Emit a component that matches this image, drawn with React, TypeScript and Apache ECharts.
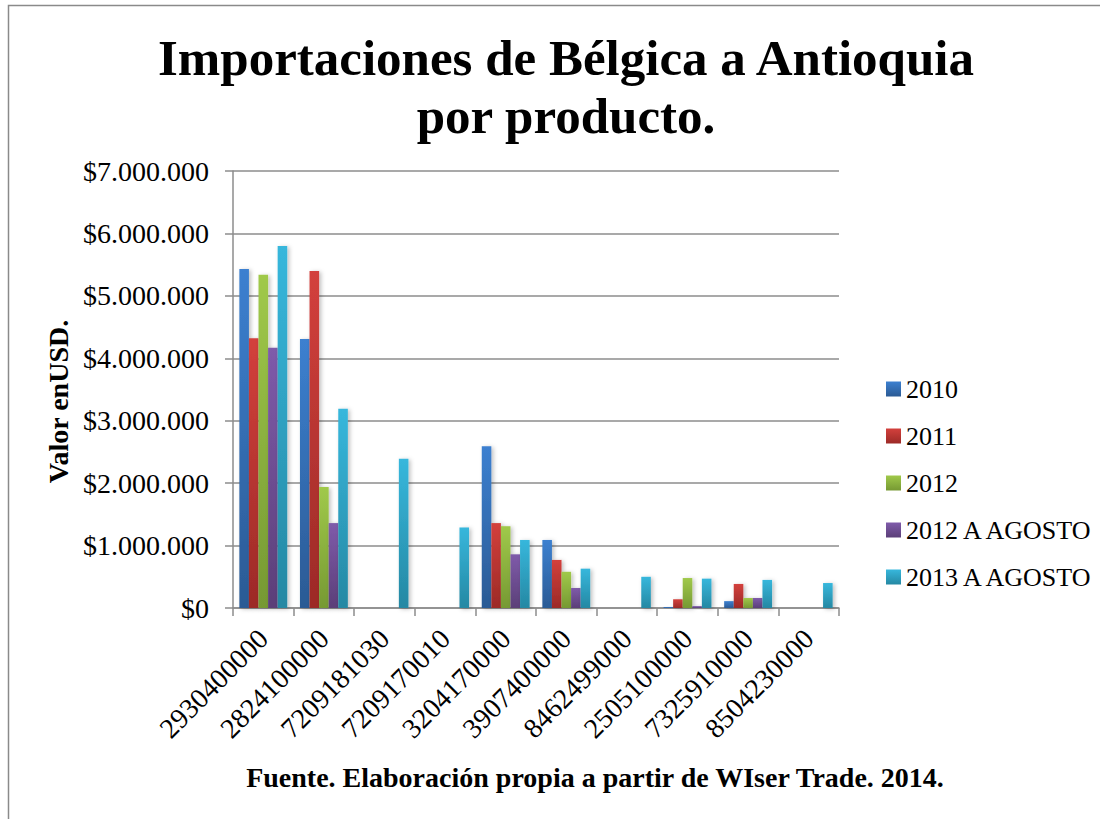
import React, { useEffect, useRef } from "react";
import * as echarts from "echarts";

const categories = [
  "2930400000",
  "2824100000",
  "7209181030",
  "7209170010",
  "3204170000",
  "3907400000",
  "8462499000",
  "2505100000",
  "7325910000",
  "8504230000",
];

const seriesNames = ["2010", "2011", "2012", "2012 A AGOSTO", "2013 A AGOSTO"];

const v2010 = [5430000, 4310000, null, null, 2590000, 1090000, null, 16000, 110000, null];
const v2011 = [4320000, 5400000, null, null, 1360000, 770000, null, 140000, 385000, null];
const v2012 = [5340000, 1940000, null, null, 1310000, 580000, null, 480000, 160000, null];
const v2012Ago = [4170000, 1360000, null, null, 860000, 320000, null, 30000, 160000, null];
const v2013Ago = [5800000, 3190000, 2390000, 1290000, 1090000, 630000, 500000, 470000, 450000, 400000];

const seriesValues = [v2010, v2011, v2012, v2012Ago, v2013Ago];

const gradientStops: [string, string][] = [
  ["#3C80D0", "#2B5A94"],
  ["#D3403C", "#9C2A27"],
  ["#A0C94A", "#769933"],
  ["#7F5BAA", "#5B3F78"],
  ["#37B7DC", "#2588A3"],
];

const FONT = "Liberation Serif";

function fmtMoney(v: number) {
  return "$" + Math.round(v).toString().replace(/\B(?=(\d{3})+(?!\d))/g, ".");
}

export default function App() {
  const ref = useRef<HTMLDivElement>(null);

  useEffect(() => {
    document.body.style.margin = "0";
    if (!ref.current) return;
    const chart = echarts.init(ref.current, null, { renderer: "svg" });

    const series = seriesNames.map((name, i) => ({
      name,
      type: "bar" as const,
      data: seriesValues[i],
      barGap: "0%",
      barCategoryGap: "21%",
      itemStyle: {
        color: new echarts.graphic.LinearGradient(0, 0, 0, 1, [
          { offset: 0, color: gradientStops[i][0] },
          { offset: 1, color: gradientStops[i][1] },
        ]),
        shadowBlur: 4,
        shadowOffsetX: 2,
        shadowOffsetY: 1,
        shadowColor: "rgba(0,0,0,0.25)",
      },
    }));

    const option: any = {
      animation: false,
      backgroundColor: "#ffffff",
      textStyle: { fontFamily: FONT },
      title: {
        text: "Importaciones de Bélgica a Antioquia\npor producto.",
        left: 561,
        top: 24,
        textAlign: "center",
        textStyle: {
          fontFamily: FONT,
          fontWeight: "bold",
          fontSize: 51,
          lineHeight: 58,
          color: "#000",
        },
      },
      legend: {
        orient: "vertical",
        left: 881,
        top: 371,
        itemWidth: 15,
        itemHeight: 15,
        itemGap: 21,
        icon: "rect",
        data: seriesNames,
        textStyle: { fontFamily: FONT, fontSize: 26, color: "#000" },
      },
      grid: { left: 233, right: 261, top: 171, bottom: 211, containLabel: false },
      xAxis: {
        type: "category",
        data: categories,
        boundaryGap: true,
        axisLine: { lineStyle: { color: "#8c8c8c", width: 1.5 } },
        axisTick: { show: true, length: 8, interval: 0, lineStyle: { color: "#8c8c8c", width: 1.5 } },
        axisLabel: {
          interval: 0,
          rotate: 45,
          margin: 26,
          fontFamily: FONT,
          fontSize: 28,
          color: "#000",
        },
      },
      yAxis: {
        type: "value",
        min: 0,
        max: 7000000,
        interval: 1000000,
        name: "Valor enUSD.",
        nameLocation: "middle",
        nameRotate: 90,
        nameGap: 160,
        nameTextStyle: {
          fontFamily: FONT,
          fontWeight: "bold",
          fontSize: 28,
          color: "#000",
          padding: [0, 24, 0, 0],
        },
        axisLine: { show: true, lineStyle: { color: "#8c8c8c", width: 1.5 } },
        axisTick: { show: true, length: 8, lineStyle: { color: "#8c8c8c", width: 1.5 } },
        splitLine: { show: true, lineStyle: { color: "#8c8c8c", width: 1.5 } },
        axisLabel: {
          margin: 24,
          fontFamily: FONT,
          fontSize: 28,
          color: "#000",
          formatter: (v: number) => fmtMoney(v),
        },
      },
      graphic: [
        {
          type: "rect",
          silent: true,
          shape: { x: 8.5, y: 5.5, width: 1300, height: 1300 },
          style: { fill: "none", stroke: "#8a8a8a", lineWidth: 1.5 },
        },
        {
          type: "text",
          x: 595,
          y: 777,
          style: {
            text: "Fuente. Elaboración propia a partir de WIser Trade. 2014.",
            fontFamily: FONT,
            fontWeight: "bold",
            fontSize: 28,
            fill: "#000",
            align: "center",
            verticalAlign: "middle",
          },
        },
      ],
      series,
    };

    chart.setOption(option);
    return () => chart.dispose();
  }, []);

  return <div ref={ref} style={{ width: 1100, height: 819 }} />;
}
